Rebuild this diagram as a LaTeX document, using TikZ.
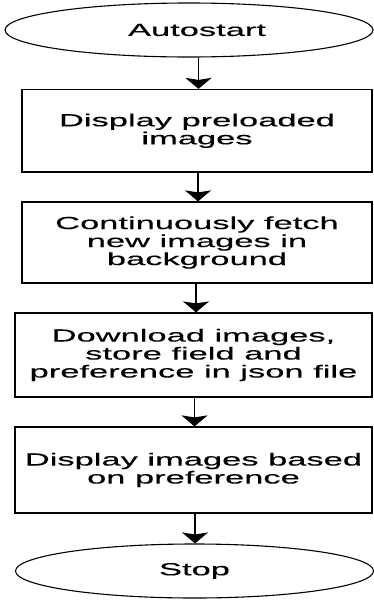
\documentclass[tikz,border=0pt]{standalone}
\usepackage{fontspec}
\setmainfont{Liberation Sans}[FakeStretch=1.97,FakeBold=0.3]
\usetikzlibrary{shapes.geometric,arrows.meta}
\begin{document}
\begin{tikzpicture}[x=1pt,y=-1pt,
  every node/.style={font=\fontsize{17.5}{18}\selectfont, align=center, inner sep=0pt},
  term/.style={draw, ellipse, line width=1.1pt},
  proc/.style={draw, rectangle, line width=1.2pt},
  arr/.style={line width=1.6pt, -{Stealth[width=26pt,length=11pt,inset=2pt]}}]
\useasboundingbox (0,0) rectangle (374,600);
\node[term, minimum width=368pt, minimum height=54pt] (start) at (189,30) {\hspace*{16pt}Autostart};
\node[proc, minimum width=350pt, minimum height=82.5pt] (b1) at (197,130.75) {Display preloaded\\images};
\node[proc, minimum width=350pt, minimum height=81pt] (b2) at (197,242.5) {Continuously fetch\\new images in\\background};
\node[proc, minimum width=357pt, minimum height=84pt] (b3) at (193.5,355) {Download images,\\store field and\\preference in json file};
\node[proc, minimum width=357pt, minimum height=86pt] (b4) at (193.5,470) {Display images based\\on preference};
\node[term, minimum width=358pt, minimum height=54pt] (stop) at (194.5,571) {Stop};
\coordinate (ax1) at (198.5,0);
\coordinate (ax2) at (198,0);
\coordinate (ax3) at (196,0);
\coordinate (ax4) at (194.5,0);
\coordinate (ax5) at (195,0);
\draw[arr] (start.south -| ax1) -- (b1.north -| ax1);
\draw[arr] (b1.south -| ax2) -- (b2.north -| ax2);
\draw[arr] (b2.south -| ax3) -- (b3.north -| ax3);
\draw[arr] (b3.south -| ax4) -- (b4.north -| ax4);
\draw[arr] (b4.south -| ax5) -- (stop.north -| ax5);
\end{tikzpicture}
\end{document}
